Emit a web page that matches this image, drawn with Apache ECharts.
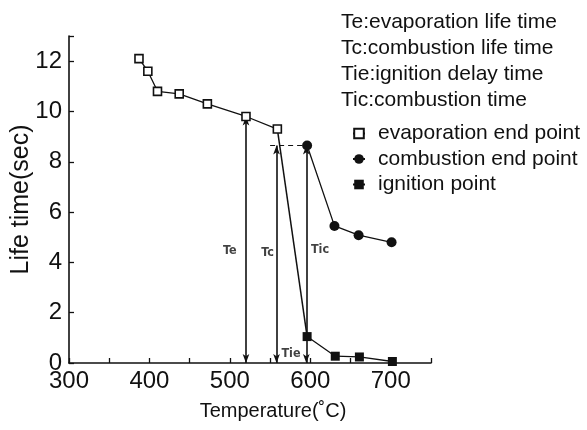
<!DOCTYPE html>
<html><head><meta charset="utf-8">
<script src="https://cdn.jsdelivr.net/npm/echarts@6/dist/echarts.min.js"></script>
<style>html,body{margin:0;padding:0;background:#fff}#c{width:587px;height:430px}</style>
</head><body><div id="c"></div>
<script>
// Data
const evapX = [387, 398, 410, 437, 472, 520, 559];
const evapY = [12.1, 11.6, 10.8, 10.7, 10.3, 9.8, 9.3];
const combX = [596, 630, 660, 701];
const combY = [8.65, 5.45, 5.08, 4.8];
const ignX = [596, 631, 661, 702];
const ignY = [1.05, 0.27, 0.24, 0.06];
// vertical double-arrow intervals: x, yFrom, yTo
const arrowX = [520, 558, 595];
const arrowFrom = [0, 0, 0];
const arrowTo = [9.8, 8.65, 8.65];
const annText = ['Te', 'Tc', 'Tic', 'Tie'];
const annX = [500, 547, 612, 576];
const annY = [4.45, 4.4, 4.5, 0.35];
const legendLines = ['Te:evaporation life time', 'Tc:combustion life time', 'Tie:ignition delay time', 'Tic:combustion time'];
const seriesNames = ['evaporation end point', 'combustion end point', 'ignition point'];
const xTicks = [300, 400, 500, 600, 700];
const yTicks = [0, 2, 4, 6, 8, 10, 12];

const zip = (xs, ys) => xs.map((x, i) => [x, ys[i]]);
const chart = echarts.init(document.getElementById('c'));
const FONT = 'Liberation Sans';
const black = '#111';

chart.setOption({
  animation: false,
  title: {
    text: legendLines.join('\n'),
    left: 341, top: 9, padding: 0,
    textStyle: { fontFamily: FONT, fontSize: 21, fontWeight: 'normal', color: black, lineHeight: 26 }
  },
  legend: {
    orient: 'vertical', left: 347, top: 118,
    itemWidth: 12, itemHeight: 12, itemGap: 4.5,
    data: seriesNames,
    textStyle: { fontFamily: FONT, fontSize: 21, color: black, padding: [0, 0, 0, 8] }
  },
  grid: { left: 69, right: 156, top: 36, bottom: 67, containLabel: false, outerBoundsMode: 'none' },
  xAxis: {
    type: 'value', min: 300, max: 750, interval: 50,
    name: 'Temperature(˚C)', nameLocation: 'middle', nameGap: 38, nameMoveOverlap: false,
    nameTextStyle: { fontFamily: FONT, fontSize: 20, color: black, padding: [0, 0, 0, 46] },
    axisLine: { lineStyle: { color: black, width: 1.6 } },
    axisTick: { inside: true, length: 5, lineStyle: { color: black, width: 1.3 } },
    axisLabel: { fontFamily: FONT, fontSize: 24, color: black, margin: 6,
      formatter: v => xTicks.includes(v) ? String(v) : '' },
    splitLine: { show: false }
  },
  yAxis: {
    type: 'value', min: 0, max: 13, interval: 2,
    name: 'Life time(sec)', nameLocation: 'middle', nameGap: 35, nameRotate: 90, nameMoveOverlap: false,
    nameTextStyle: { fontFamily: FONT, fontSize: 25, color: black },
    axisLine: { lineStyle: { color: black, width: 1.6 } },
    axisTick: { inside: true, length: 5, lineStyle: { color: black, width: 1.3 } },
    axisLabel: { fontFamily: FONT, fontSize: 24, color: black, margin: 7,
      formatter: v => yTicks.includes(v) ? String(v) : '' },
    splitLine: { show: false }
  },
  series: [
    {
      name: seriesNames[0], type: 'line', data: zip(evapX, evapY),
      symbol: 'rect', symbolSize: 8, showAllSymbol: true,
      lineStyle: { color: black, width: 1.3 },
      itemStyle: { color: '#fff', borderColor: black, borderWidth: 1.6 },
      z: 5
    },
    {
      name: seriesNames[1], type: 'line', data: zip(combX, combY),
      symbol: 'circle', symbolSize: 10,
      lineStyle: { color: black, width: 1.3 },
      itemStyle: { color: black }, z: 5
    },
    {
      name: seriesNames[2], type: 'line', data: zip(ignX, ignY),
      symbol: 'rect', symbolSize: 9,
      lineStyle: { color: black, width: 1.3 },
      itemStyle: { color: black }, z: 5
    },
    {
      name: 'connector', type: 'line',
      data: [[evapX[evapX.length - 1], evapY[evapY.length - 1]], [ignX[0], ignY[0]]],
      symbol: 'none', lineStyle: { color: black, width: 1.5 }, z: 3,
      markLine: {
        silent: true, symbol: ['arrow', 'arrow'], symbolSize: [5, 9],
        label: { show: false },
        lineStyle: { color: black, width: 1.6, type: 'solid' },
        data: arrowX.map((x, i) => [{ coord: [x, arrowFrom[i]] }, { coord: [x, arrowTo[i]] }])
          .concat([[{ coord: [550, combY[0]], symbol: 'none', lineStyle: { type: [5, 4], width: 1.2 } },
                    { coord: [combX[0], combY[0]], symbol: 'none' }]])
      }
    },
    {
      name: 'annotations', type: 'scatter', data: zip(annX, annY),
      symbolSize: 0, z: 6,
      label: { show: true, position: 'inside',
        formatter: p => annText[p.dataIndex],
        fontFamily: 'DejaVu Sans Condensed', fontSize: 12.5, fontWeight: 'bold', color: black }
    }
  ]
});
</script></body></html>
